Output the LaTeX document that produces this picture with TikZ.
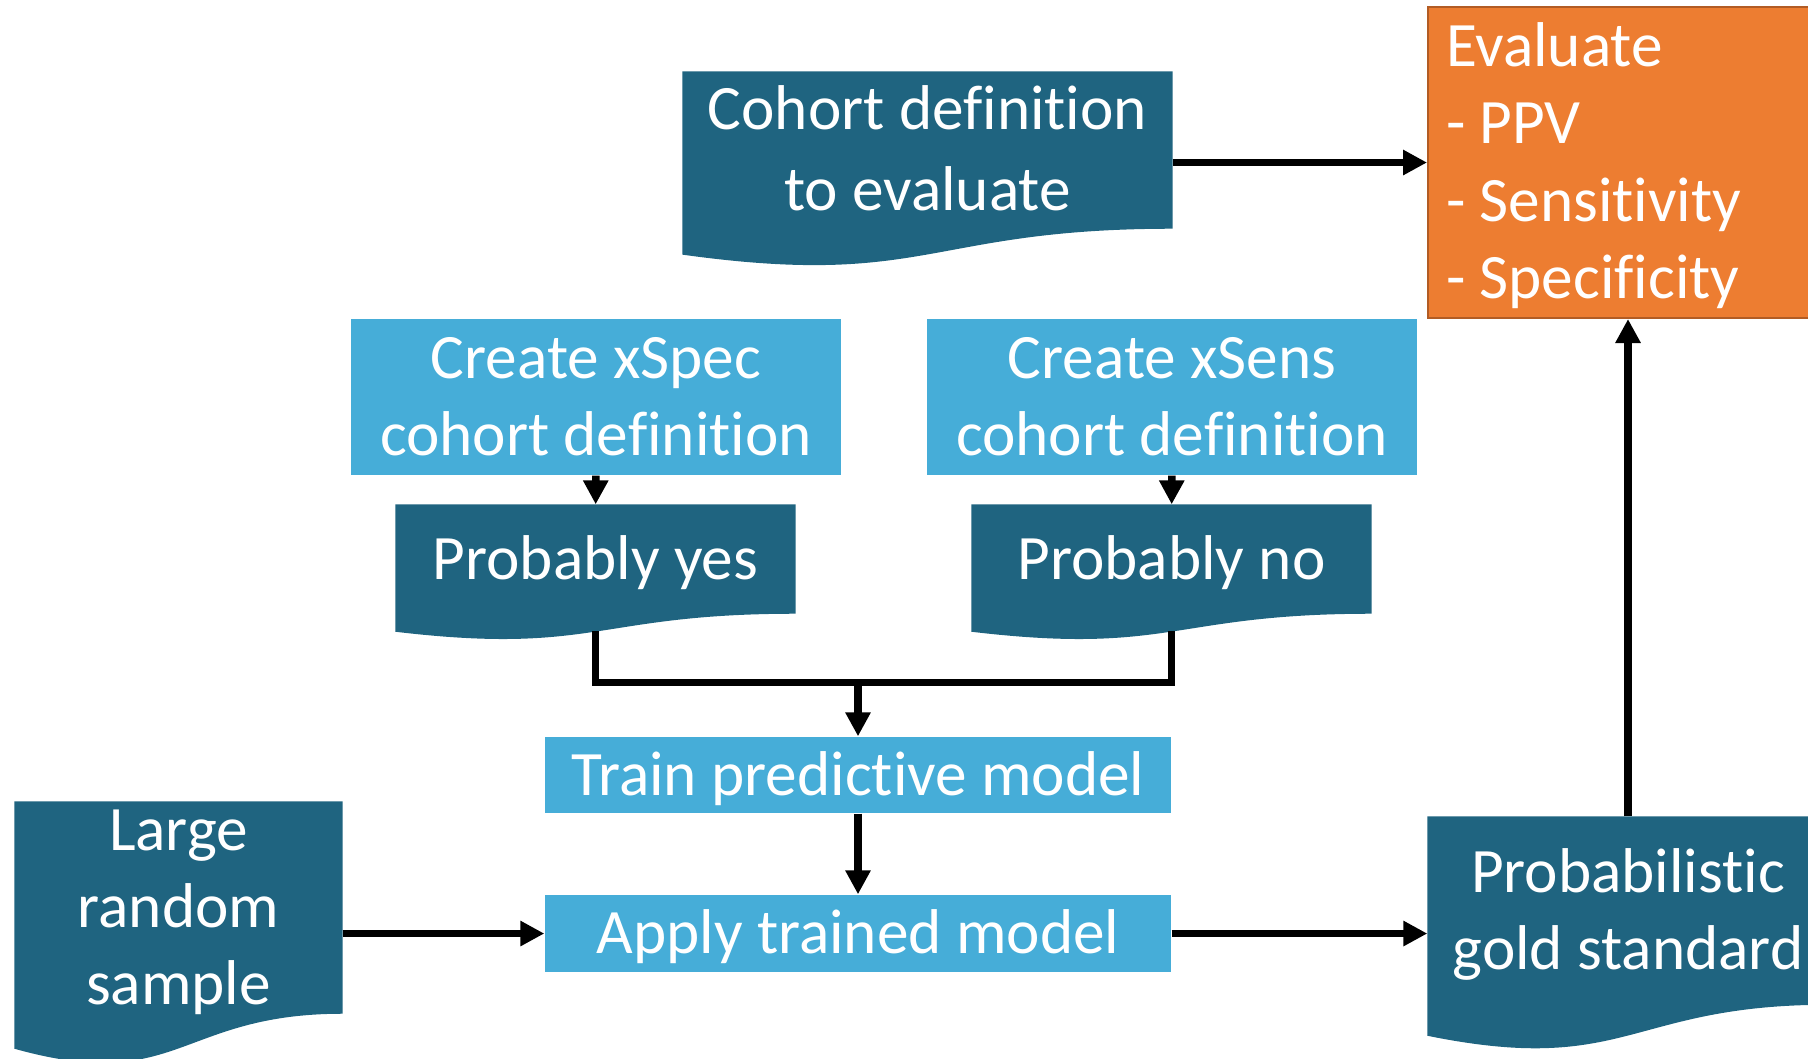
\documentclass[tikz,border=0pt]{standalone}
\usepackage{fontspec}
\setmainfont{Carlito}[Ligatures=NoCommon]
\usetikzlibrary{arrows.meta,calc,backgrounds}

\definecolor{docblue}{RGB}{31,100,128}
\definecolor{boxblue}{RGB}{70,173,216}
\definecolor{evalorange}{RGB}{237,125,49}
\definecolor{evalborder}{RGB}{178,92,36}

\begin{document}
\begin{tikzpicture}[
    procbox/.style={rectangle,fill=boxblue,text=white,inner sep=0pt,align=flush center,
      font=\fontsize{18pt}{21.9pt}\selectfont,text height=0.40cm,text depth=0pt},
    docbox/.style={procbox,fill=none},
    arr/.style={line width=0.075cm,-{Triangle[width=0.24cm,length=0.24cm]}}]
  \useasboundingbox (0,0) rectangle (18.08,-10.58);
  \clip (0,0) rectangle (18.08,-10.58);
  \draw
    (9.275,-1.50) node[docbox,minimum width=4.89cm,minimum height=1.56cm,text width=4.89cm,text depth=0.81cm,
      font=\fontsize{18pt}{23pt}\selectfont] (cohort) {Cohort definition\\to evaluate}
    (16.28,-1.625) node[rectangle,fill=evalorange,draw=evalborder,line width=0.02cm,text=white,
      inner xsep=0.18cm,inner ysep=0pt,text width=3.64cm,align=flush left,minimum width=4cm,
      minimum height=3.11cm,text height=0.40cm,text depth=2.32cm,
      font=\fontsize{18pt}{22pt}\selectfont] (eval) {Evaluate\\- PPV\\- Sensitivity\\- Specificity}
    (5.96,-3.97) node[procbox,minimum width=4.90cm,minimum height=1.56cm,text width=4.90cm,text depth=0.77cm] (xspec) {Create xSpec\\cohort definition}
    (11.72,-3.97) node[procbox,minimum width=4.90cm,minimum height=1.56cm,text width=4.90cm,text depth=0.77cm] (xsens) {Create xSens\\cohort definition}
    (5.955,-5.59) node[docbox,minimum width=3.99cm,minimum height=1.08cm] (yes) {Probably yes}
    (11.715,-5.59) node[docbox,minimum width=3.99cm,minimum height=1.08cm] (no) {Probably no}
    (8.58,-7.75) node[procbox,minimum width=6.26cm,minimum height=0.76cm] (train) {Train predictive model}
    (8.58,-9.335) node[procbox,minimum width=6.26cm,minimum height=0.77cm] (apply) {Apply trained model}
    (1.785,-9.075) node[docbox,minimum width=3.27cm,minimum height=2.11cm,text width=3.27cm,text depth=1.54cm] (large) {Large\\random\\sample}
    (16.28,-9.105) node[docbox,minimum width=4.00cm,minimum height=1.87cm,text width=4.00cm,text depth=0.77cm] (gold) {Probabilistic\\gold standard};
  % wavy bottoms of the document shapes
  \begin{scope}[on background layer]
    \foreach \n in {cohort,yes,no,large,gold}
      \fill[docblue] (\n.north west) -- (\n.north east) -- (\n.south east)
        .. controls (\n.south) and ($(\n.north)!1.381!(\n.south)$)
        .. ($(\n.north west)!1.1646!(\n.south west)$) -- cycle;
  \end{scope}
  \coordinate (yesfoot) at ($(yes.north)!1.16!(yes.south)$);
  \coordinate (nofoot) at ($(no.north)!1.16!(no.south)$);
  \coordinate (merge) at ([yshift=0.54cm]train.north);
  \draw[line width=0.075cm] (yesfoot) |- (merge) -| (nofoot);
  \begin{scope}[arr]
    \draw (eval.west -| cohort.east) -- (eval.west);
    \draw (xspec) -- (yes);
    \draw (xsens) -- (no);
    \draw (merge) -- (train);
    \draw (train) -- (apply);
    \draw (apply.west -| large.east) -- (apply.west);
    \draw (apply.east) -- (apply.east -| gold.west);
    \draw (gold) -- (eval);
  \end{scope}
\end{tikzpicture}
\end{document}
